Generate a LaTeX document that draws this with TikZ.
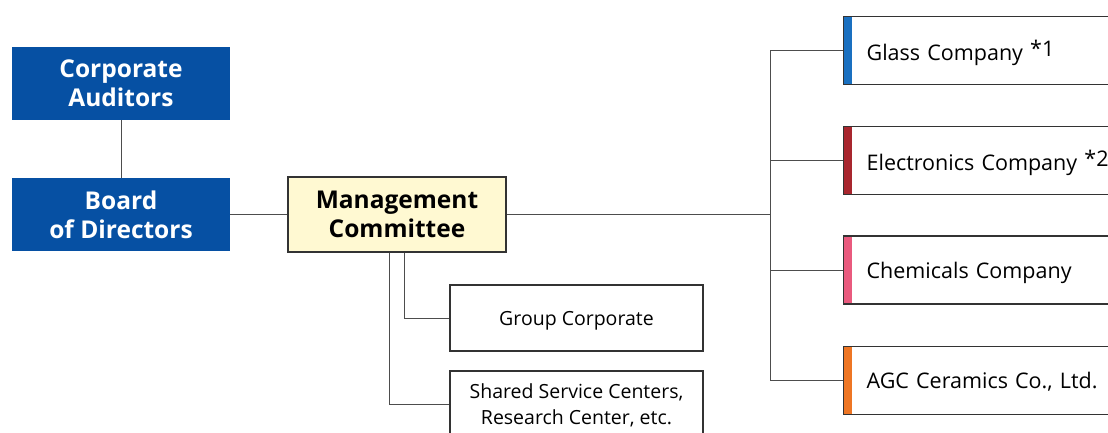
\documentclass[tikz,border=0pt]{standalone}
\usepackage{fontspec}
\setmainfont{Open Sans}
\usetikzlibrary{positioning}

\definecolor{agcblue}{HTML}{0650A3}
\definecolor{agcyellow}{HTML}{FFF9D2}
\definecolor{glassblue}{HTML}{1A70C0}
\definecolor{elecred}{HTML}{A8262E}
\definecolor{chempink}{HTML}{E95A7E}
\definecolor{ceramorange}{HTML}{EE7624}
\definecolor{linegray}{HTML}{4D4D4D}

\tikzset{
  topbox/.style={fill=agcblue, text=white, font=\bfseries\fontsize{24.5}{29}\selectfont,
    minimum width=218pt, minimum height=73pt, align=center, inner sep=0pt},
  mgmtbox/.style={draw=black!80, line width=1.2pt, fill=agcyellow,
    font=\bfseries\fontsize{24.5}{29}\selectfont, text depth=0pt,
    minimum width=218pt, minimum height=75pt, align=center, inner sep=0pt},
  staffbox/.style={draw=black!80, line width=1.2pt, fill=white,
    font=\fontsize{19.5}{26}\selectfont, text depth=0pt,
    minimum width=253pt, minimum height=66pt, align=center, inner sep=0pt},
  company/.style={draw=black!80, line width=1.2pt, fill=white, anchor=west,
    font=\fontsize{21.5}{24}\selectfont, minimum height=68pt, text depth=0pt,
    text width=260pt, align=left, inner xsep=23pt,
    path picture={\fill[#1] (path picture bounding box.north west)
      rectangle ([xshift=8pt]path picture bounding box.south west);}},
  link/.style={draw=linegray, line width=0.9pt}
}

\begin{document}
\begin{tikzpicture}[x=1pt, y=-1pt]
  \useasboundingbox (0,0) rectangle (1108,432);
  \fill[white] (0,0) rectangle (1108,432);
  \clip (0,0) rectangle (1108,432);

  % board side
  \node[topbox] (auditors) at (121,83.5)  {Corporate\\Auditors};
  \node[topbox] (board)    at (121,214.5) {Board\\of Directors};
  \node[mgmtbox] (mgmt)    at (397,214.5) {Management\\Committee};

  % head office functions
  \node[staffbox] (group)  at (576.5,318) {Group Corporate};
  \node[staffbox] (shared) at (576.5,404) {Shared Service Centers,\\Research Center, etc.};

  % in-house companies
  \node[company=glassblue]   (glass)       at (843,50.5)  {Glass Company \raisebox{4pt}{*1}};
  \node[company=elecred]     (electronics) at (843,160.5) {Electronics Company \raisebox{4pt}{*2}};
  \node[company=chempink]    (chemicals)   at (843,270)   {Chemicals Company};
  \node[company=ceramorange] (ceramics)    at (843,380.5) {AGC Ceramics Co., Ltd.};

  \coordinate (bus) at (770,214.5);

  \draw[link] (auditors) -- (board);
  \draw[link] (board) -- (mgmt);
  \draw[link] (mgmt) -- (bus);
  \draw[link] (bus |- glass.west) -- (bus |- ceramics.west);
  \foreach \c in {glass,electronics,chemicals,ceramics}
    \draw[link] (bus |- \c.west) -- (\c.west);
  \draw[link] ([xshift=7pt]mgmt.south) |- (group.west);
  \draw[link] ([xshift=-8pt]mgmt.south) |- (shared.west);
\end{tikzpicture}
\end{document}
